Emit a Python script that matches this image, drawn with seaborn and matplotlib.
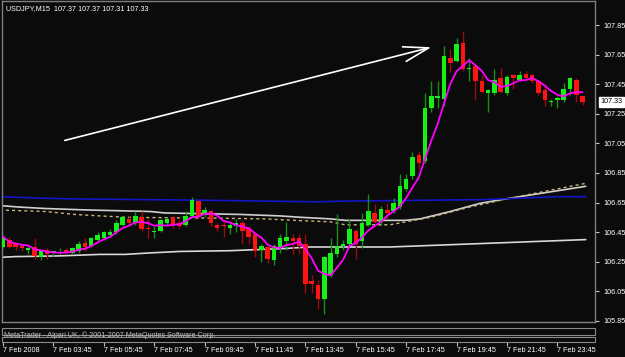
import numpy as np
import pandas as pd
import matplotlib
matplotlib.use("Agg")
import matplotlib.pyplot as plt
import matplotlib.transforms as mtransforms
from matplotlib.patches import Rectangle
import seaborn as sns

# ---------------- data ----------------
opens = [106.35, 106.40, 106.37, 106.36, 106.33, 106.35, 106.28, 106.33, 106.31, 106.32,
         106.33, 106.31, 106.32, 106.38, 106.36, 106.40, 106.41, 106.43, 106.45, 106.50,
         106.54, 106.51, 106.55, 106.48, 106.45, 106.46, 106.51, 106.55, 106.51, 106.50,
         106.56, 106.66, 106.57, 106.59, 106.50, 106.50, 106.48, 106.49, 106.51, 106.48,
         106.44, 106.33, 106.35, 106.26, 106.34, 106.39, 106.41, 106.41, 106.37, 106.12,
         106.09, 106.00, 106.16, 106.30, 106.36, 106.37, 106.46, 106.39, 106.50, 106.58,
         106.52, 106.60, 106.59, 106.62, 106.74, 106.83, 106.97, 106.93, 107.29, 107.36,
         107.35, 107.63, 107.61, 107.73, 107.55, 107.57, 107.47, 107.39, 107.39, 107.49,
         107.39, 107.51, 107.48, 107.52, 107.51, 107.47, 107.41, 107.33, 107.34, 107.34,
         107.42, 107.48, 107.37]
highs = [106.43, 106.42, 106.38, 106.37, 106.35, 106.41, 106.33, 106.34, 106.32, 106.34,
         106.34, 106.35, 106.39, 106.41, 106.42, 106.45, 106.46, 106.47, 106.53, 106.56,
         106.56, 106.59, 106.59, 106.54, 106.49, 106.54, 106.55, 106.56, 106.53, 106.59,
         106.69, 106.67, 106.62, 106.60, 106.51, 106.52, 106.51, 106.54, 106.53, 106.49,
         106.45, 106.37, 106.36, 106.37, 106.44, 106.52, 106.44, 106.44, 106.44, 106.16,
         106.13, 106.29, 106.41, 106.57, 106.40, 106.54, 106.47, 106.58, 106.71, 106.64,
         106.63, 106.65, 106.68, 106.84, 106.84, 106.99, 107.00, 107.39, 107.47, 107.47,
         107.71, 107.69, 107.76, 107.81, 107.63, 107.57, 107.51, 107.42, 107.55, 107.56,
         107.51, 107.52, 107.54, 107.54, 107.52, 107.48, 107.45, 107.35, 107.37, 107.46,
         107.50, 107.49, 107.37]
lows = [106.34, 106.34, 106.33, 106.32, 106.30, 106.27, 106.26, 106.27, 106.29, 106.30,
        106.30, 106.30, 106.31, 106.32, 106.35, 106.39, 106.40, 106.42, 106.44, 106.49,
        106.50, 106.50, 106.46, 106.41, 106.41, 106.45, 106.50, 106.48, 106.48, 106.49,
        106.55, 106.54, 106.55, 106.49, 106.46, 106.42, 106.44, 106.45, 106.37, 106.37,
        106.28, 106.25, 106.24, 106.23, 106.31, 106.33, 106.30, 106.30, 106.04, 106.04,
        105.93, 105.90, 106.15, 106.28, 106.33, 106.36, 106.27, 106.34, 106.49, 106.51,
        106.50, 106.54, 106.58, 106.61, 106.73, 106.81, 106.88, 106.92, 107.26, 107.29,
        107.30, 107.53, 107.60, 107.54, 107.47, 107.34, 107.39, 107.26, 107.38, 107.39,
        107.38, 107.42, 107.47, 107.48, 107.46, 107.38, 107.30, 107.30, 107.29, 107.33,
        107.38, 107.33, 107.31]
closes = [106.42, 106.35, 106.35, 106.34, 106.34, 106.29, 106.32, 106.30, 106.32, 106.32,
          106.31, 106.34, 106.37, 106.35, 106.41, 106.43, 106.45, 106.45, 106.51, 106.55,
          106.51, 106.56, 106.47, 106.47, 106.46, 106.53, 106.54, 106.50, 106.49, 106.56,
          106.67, 106.55, 106.60, 106.51, 106.48, 106.49, 106.50, 106.51, 106.46, 106.42,
          106.32, 106.36, 106.27, 106.36, 106.41, 106.42, 106.39, 106.36, 106.10, 106.10,
          106.00, 106.28, 106.31, 106.36, 106.37, 106.47, 106.37, 106.51, 106.59, 106.52,
          106.61, 106.58, 106.65, 106.76, 106.81, 106.96, 106.92, 107.29, 107.37, 107.37,
          107.64, 107.59, 107.72, 107.55, 107.56, 107.47, 107.40, 107.41, 107.48, 107.40,
          107.50, 107.49, 107.51, 107.49, 107.47, 107.39, 107.34, 107.33, 107.36, 107.42,
          107.49, 107.38, 107.33]

# long moving averages (node values)
blue_x = [-0.5, 6, 11, 23, 34, 50, 54, 65, 76, 88, 92.5]
blue_y = [106.69, 106.68, 106.675, 106.67, 106.665, 106.655, 106.66, 106.665, 106.67, 106.69, 106.69]
white_hi_x = [-0.5, 2.5, 6.7, 13.5, 23.3, 25.7, 37.6, 44, 47.5, 52, 54.3, 63.8, 66.2, 71, 75.7, 80.5, 92.5]
white_hi_y = [106.63, 106.62, 106.61, 106.60, 106.59, 106.58, 106.57, 106.56, 106.55, 106.54, 106.53,
              106.53, 106.54, 106.59, 106.645, 106.68, 106.76]
yellow_x = [-0.5, 6.7, 11.4, 15.4, 20.2, 33.7, 41.6, 46.3, 52, 54.3, 61.4, 67.8, 74.1, 80.5, 92.5]
yellow_y = [106.60, 106.59, 106.57, 106.56, 106.55, 106.545, 106.54, 106.53, 106.52, 106.50, 106.50,
            106.55, 106.62, 106.68, 106.78]
white_lo_x = [-0.5, 1.9, 9, 15.4, 19.4, 23.3, 28.1, 36, 44.8, 48.7, 61.4, 92.5]
white_lo_y = [106.28, 106.285, 106.29, 106.30, 106.30, 106.31, 106.32, 106.325, 106.34, 106.35, 106.35, 106.40]

arrow_x = [9.8, 68.0]
arrow_y = [107.07, 107.70]

price_ticks = [107.85, 107.65, 107.45, 107.25, 107.05, 106.85, 106.65, 106.45, 106.25, 106.05, 105.85]
time_tick_pos = [0, 8, 16, 24, 32, 40, 48, 56, 64, 72, 80, 88]
time_labels = ["7 Feb 2008", "7 Feb 03:45", "7 Feb 05:45", "7 Feb 07:45", "7 Feb 09:45",
               "7 Feb 11:45", "7 Feb 13:45", "7 Feb 15:45", "7 Feb 17:45", "7 Feb 19:45",
               "7 Feb 21:45", "7 Feb 23:45"]
title_text = "USDJPY,M15  107.37 107.37 107.31 107.33"
last_price = 107.33
footer_text = "MetaTrader - Alpari UK, \u00a9 2001-2007 MetaQuotes Software Corp."

# ---------------- styling ----------------
BG = "#0b0b0b"
sns.set_theme(style="dark")
plt.rcParams.update({
    "font.family": ["Liberation Sans", "DejaVu Sans"],
    "axes.facecolor": BG,
    "figure.facecolor": BG,
    "axes.edgecolor": "#808080",
    "axes.grid": False,
})

W, H = 625, 357
def fx(px): return px / W
def fy(py): return 1 - py / H

fig = plt.figure(figsize=(6.25, 3.57), dpi=100, facecolor=BG)
ax = fig.add_axes([fx(2), fy(322), fx(595) - fx(2), fy(1) - fy(322)])
ax.set_facecolor(BG)

df = pd.DataFrame({"i": np.arange(len(opens)), "open": opens, "high": highs,
                   "low": lows, "close": closes})
df["ma"] = df["close"].rolling(5, min_periods=1).mean()
up = df["close"] >= df["open"]

# long averages
sns.lineplot(x=white_lo_x, y=white_lo_y, ax=ax, color="#d8d8d8", linewidth=1.2, zorder=2)
sns.lineplot(x=white_hi_x, y=white_hi_y, ax=ax, color="#d0d0d0", linewidth=1.2, zorder=2)
sns.lineplot(x=yellow_x, y=yellow_y, ax=ax, color="#c9b57a", linewidth=1.0, zorder=2,
             dashes=False).lines[-1].set_dashes([2.2, 2.2])
sns.lineplot(x=blue_x, y=blue_y, ax=ax, color="#1414c8", linewidth=1.2, zorder=2)

# candles
ax.vlines(df["i"][up], df["low"][up], df["high"][up], color="#178f17", linewidth=1.0, zorder=3)
ax.vlines(df["i"][~up], df["low"][~up], df["high"][~up], color="#9a0c0c", linewidth=1.0, zorder=3)
body_h = np.maximum((df["close"] - df["open"]).abs(), 0.006)
body_b = np.minimum(df["open"], df["close"])
ax.bar(df["i"][up], body_h[up], bottom=body_b[up], width=0.72, color="#16f016", linewidth=0, zorder=4)
ax.bar(df["i"][~up], body_h[~up], bottom=body_b[~up], width=0.72, color="#ff1414", linewidth=0, zorder=4)

# magenta short MA
sns.lineplot(data=df, x="i", y="ma", ax=ax, color="#ff00ff", linewidth=1.3, zorder=5)

# arrow
ax.annotate("", xy=(arrow_x[1], arrow_y[1]), xytext=(arrow_x[0], arrow_y[0]),
            arrowprops=dict(arrowstyle="->,head_length=1.5,head_width=0.45",
                            color="white", lw=1.2, shrinkA=0, shrinkB=0), zorder=6)

# axes limits / ticks
ax.set_xlim(-0.16, 93.97)
ax.set_ylim(105.8432, 108.0122)
ax.set_xlabel("")
ax.set_ylabel("")
ax.set_xticks([])
ax.yaxis.tick_right()
ax.set_yticks(price_ticks)
ax.set_yticklabels([f"{p:.2f}" for p in price_ticks])
ax.tick_params(axis="y", colors="#c8c8c8", labelcolor="white", length=3, width=0.8,
               labelsize=5.2, pad=3, right=True, left=False)
for s in ax.spines.values():
    s.set_color("#808080")
    s.set_linewidth(1.0)

ax.text(0.006, 0.977, title_text, transform=ax.transAxes, color="white", fontsize=5.2,
        ha="left", va="center")

ax.annotate(f"{last_price:.2f}", xy=(1, last_price), xycoords=("axes fraction", "data"),
            xytext=(4, 0), textcoords="offset points", ha="left", va="center",
            fontsize=5.2, color="black",
            bbox=dict(boxstyle="square,pad=0.25", fc="white", ec="white"))

# status bars under the chart
fig.add_artist(Rectangle((fx(2), fy(335)), fx(595) - fx(2), (335 - 328) / H,
                         transform=fig.transFigure, fill=False, ec="#8a8a8a", lw=0.8))
fig.add_artist(Rectangle((fx(2), fy(342)), fx(595) - fx(2), (342 - 337) / H,
                         transform=fig.transFigure, fill=False, ec="#8a8a8a", lw=0.8))
fig.text(fx(4), fy(335.5), footer_text, color="#c0c0c0", fontsize=5.2, ha="left", va="center")

# time axis
axb = fig.add_axes([fx(2), fy(357), fx(595) - fx(2), fy(342) - fy(357)])
axb.set_facecolor(BG)
axb.set_xlim(ax.get_xlim())
axb.set_ylim(0, 1)
for s in axb.spines.values():
    s.set_visible(False)
axb.set_yticks([])
axb.xaxis.tick_top()
axb.set_xticks(time_tick_pos)
axb.tick_params(axis="x", direction="in", length=3, width=0.8, colors="#c0c0c0",
                labeltop=False, labelbottom=False)
blend = mtransforms.blended_transform_factory(axb.transData, axb.transAxes)
for pos, lab in zip(time_tick_pos, time_labels):
    axb.text(pos, 0.45, lab, transform=blend, color="white", fontsize=5.2,
             ha="left", va="center")

fig.savefig("out.png", dpi=100, facecolor=BG)
